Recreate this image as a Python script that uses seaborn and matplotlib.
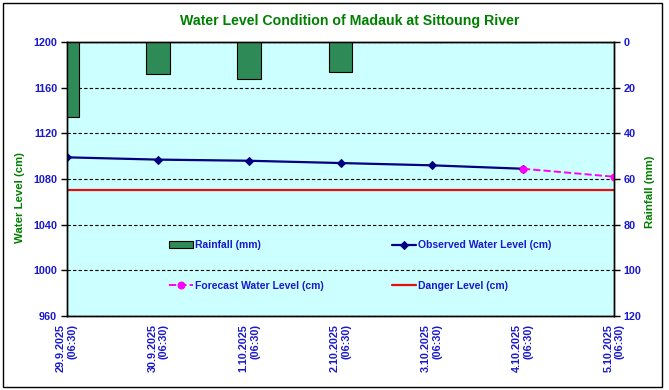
import matplotlib
matplotlib.use('Agg')
import matplotlib.pyplot as plt
import seaborn as sns
from matplotlib.patches import Rectangle

# values
dates = ['29.9.2025', '30.9.2025', '1.10.2025', '2.10.2025',
         '3.10.2025', '4.10.2025', '5.10.2025']
times = ['(06:30)'] * 7
observed = [1099, 1097, 1096, 1094, 1092, 1089]
forecast_x = [5, 6]
forecast = [1089, 1082]
rainfall = [33, 14, 16, 13, 0, 0, 0]
danger = 1070

blue = '#1a1acc'
green = '#008000'

sns.set_style('white')
plt.rcParams['font.family'] = ['Liberation Sans', 'DejaVu Sans']
plt.rcParams['font.weight'] = 'bold'

fig = plt.figure(figsize=(6.69, 3.90), dpi=100)
ax = fig.add_axes([0.100, 0.190, 0.818, 0.702])
ax.set_facecolor('#ccffff')
ax2 = ax.twinx()

x = list(range(len(dates)))

# water levels
ax.axhline(danger, color='#e01010', lw=1.6, label='Danger Level (cm)', zorder=2)
sns.lineplot(x=x[:len(observed)], y=observed, ax=ax, color='#000080', lw=1.6,
             marker='D', markersize=4, markeredgecolor='#000080',
             label='Observed Water Level (cm)', zorder=3)
sns.lineplot(x=forecast_x, y=forecast, ax=ax, color='#ff00ff', lw=1.4,
             linestyle='--', marker='o', markersize=5, markeredgecolor='#ff00ff',
             label='Forecast Water Level (cm)', zorder=4)

ax.set_xlim(0, 6)
ax.set_ylim(960, 1200)
ax.set_yticks(range(960, 1201, 40))
ax.yaxis.grid(True, color='black', linestyle=(0, (3, 2)), lw=0.8)
ax.set_axisbelow(True)

# rainfall bars, hanging from top
ax2.bar(x, rainfall, width=0.26, color='#2e8b57', edgecolor='black', lw=0.8,
        label='Rainfall (mm)')
ax2.set_ylim(120, 0)
ax2.set_yticks(range(0, 121, 20))

ax.set_xticks(x)
ax.set_xticklabels([d + '\n' + t for d, t in zip(dates, times)], rotation=90,
                   ha='center', va='top', multialignment='right')

for a in (ax, ax2):
    for s in a.spines.values():
        s.set_color('black')
        s.set_linewidth(1)
    a.tick_params(colors='black', labelcolor=blue, labelsize=7.8, length=4,
                  width=1, direction='out')
ax.tick_params(axis='x', pad=2)
ax.tick_params(axis='y', left=True, pad=3)
ax2.tick_params(axis='y', right=True, pad=3)
for lbl in ax.get_xticklabels() + ax.get_yticklabels() + ax2.get_yticklabels():
    lbl.set_fontweight('bold')

ax.set_ylabel('Water Level (cm)', color=green, fontsize=8.2, fontweight='bold', labelpad=6)
ax2.set_ylabel('Rainfall (mm)', color=green, fontsize=8.2, fontweight='bold', labelpad=2)
ax.yaxis.label.set_y(0.434)
ax2.yaxis.label.set_y(0.453)
ax.set_xlabel('')

fig.suptitle('Water Level Condition of Madauk at Sittoung River', x=0.522, y=0.965,
             color=green, fontsize=10.2, fontweight='bold')

# legend inside the plot area
h1, l1 = ax.get_legend_handles_labels()
h2, l2 = ax2.get_legend_handles_labels()
hd = dict(zip(l1 + l2, h1 + h2))
order = ['Rainfall (mm)', 'Forecast Water Level (cm)',
         'Observed Water Level (cm)', 'Danger Level (cm)']
ax.get_legend().remove()
leg = ax2.legend([hd[k] for k in order], order, ncol=2, frameon=False,
                 loc='upper left', bbox_to_anchor=(0.17, 0.31),
                 fontsize=7.5, handlelength=2.3, handletextpad=0.2,
                 columnspacing=6.5, labelspacing=2.9)
for t in leg.get_texts():
    t.set_color(blue)
    t.set_fontweight('bold')

# outer chart frame
fig.add_artist(Rectangle((0.004, 0.008), 0.986, 0.984, transform=fig.transFigure,
                         fill=False, edgecolor='black', lw=1))

fig.savefig('out.png', dpi=100)
